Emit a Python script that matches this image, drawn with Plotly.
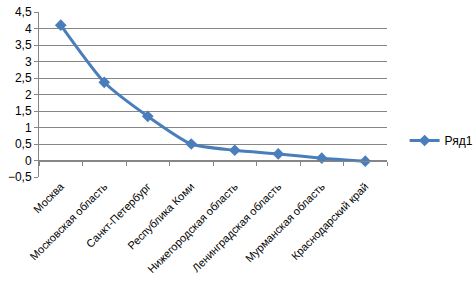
import plotly.graph_objects as go

categories = ["Москва", "Московская область", "Санкт-Петербург", "Республика Коми",
              "Нижегородская область", "Ленинградская область", "Мурманская область",
              "Краснодарский край"]
values = [4.1, 2.37, 1.34, 0.5, 0.31, 0.2, 0.07, -0.02]
series_name = "Ряд1"
y_ticks = [-0.5, 0, 0.5, 1, 1.5, 2, 2.5, 3, 3.5, 4, 4.5]

color = "#4A7EBB"
font = dict(family="Liberation Sans, Arial, sans-serif", size=12, color="#000000")

fig = go.Figure()
fig.add_trace(go.Scatter(
    x=categories, y=values, name=series_name, mode="lines+markers",
    line=dict(color=color, width=3, shape="spline", smoothing=0.6),
    marker=dict(symbol="diamond", size=9, color=color),
    showlegend=True,
))
# invisible trace on xaxis2 to carry the category axis at y=0
fig.add_trace(go.Scatter(x=categories, y=values, xaxis="x2", mode="markers",
                         marker=dict(opacity=0), showlegend=False, hoverinfo="skip"))

fig.update_layout(
    width=476, height=281,
    margin=dict(l=39, r=89, t=12, b=104, autoexpand=False),
    paper_bgcolor="white", plot_bgcolor="white",
    separators=", ",
    font=font,
    showlegend=True,
    legend=dict(xref="container", yref="container", x=0.85, xanchor="left",
                y=0.50, yanchor="middle",
                font=dict(size=12), bgcolor="rgba(0,0,0,0)"),
    xaxis=dict(type="category", range=[-0.5, 7.5], tickangle=-45,
               showgrid=False, showline=False, ticks="", zeroline=False,
               tickfont=dict(size=11), automargin=False),
    xaxis2=dict(type="category", range=[-0.5, 7.5], overlaying="x",
                anchor="free", position=0.1, showticklabels=False,
                showline=True, linecolor="#868686", linewidth=1,
                ticks="outside", ticklen=4, tickcolor="#868686",
                tickson="boundaries", showgrid=False, zeroline=False),
    yaxis=dict(range=[-0.5, 4.5], tickvals=y_ticks, showgrid=True,
               gridcolor="#868686", gridwidth=1, zeroline=False,
               showline=True, linecolor="#868686", ticks="outside",
               ticklen=4, tickcolor="#868686", tickfont=dict(size=12),
               automargin=False),
)

fig.write_html("out.html")
